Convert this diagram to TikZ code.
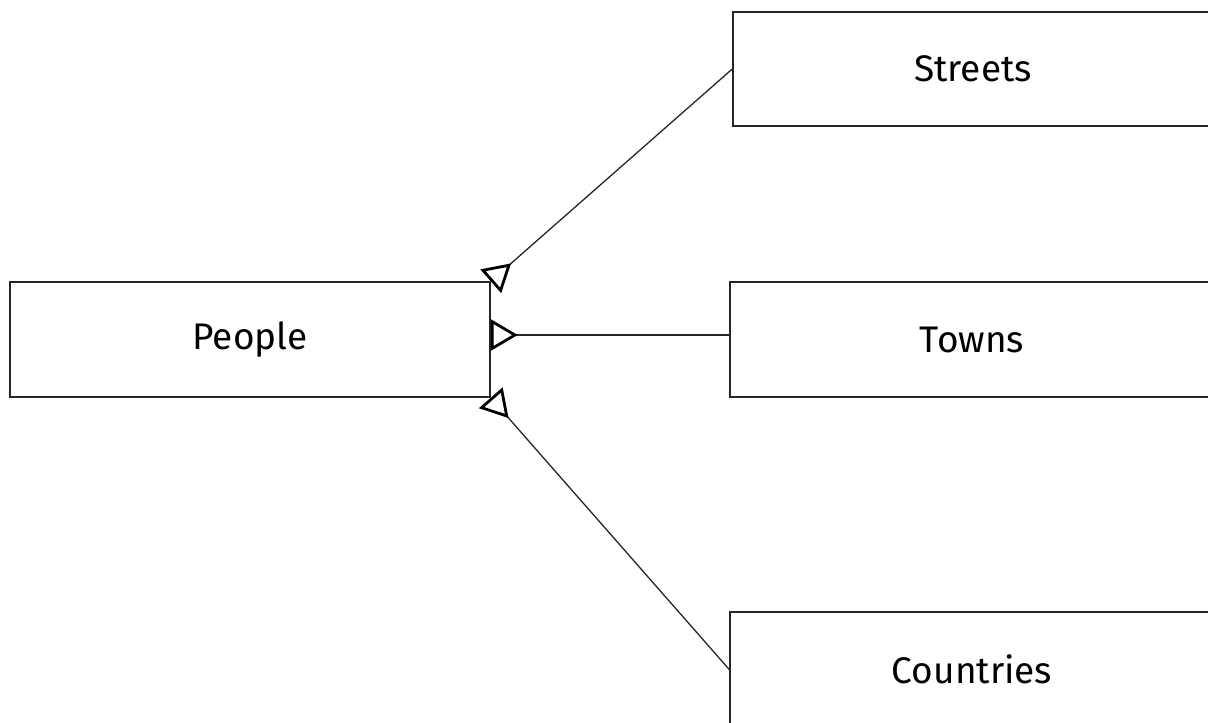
\documentclass[tikz,border=0pt]{standalone}
\usepackage{fontspec}
\setmainfont{Fira Sans}
\usetikzlibrary{arrows.meta}
\begin{document}
\begin{tikzpicture}[x=1pt,y=-1pt,
  entity/.style={draw=black!85, line width=1.5pt, fill=white, inner sep=0pt,
    font=\fontsize{37}{42}\selectfont, text=black},
  link/.style={draw=black!85, line width=1.3pt,
    {Triangle[open,reversed,length=27pt,width=31pt,line width=2.8pt,color=black]}-}
]
\useasboundingbox (0,0) rectangle (1208,723);
\clip (0,0) rectangle (1208,723);
\node[entity, minimum width=480pt, minimum height=115pt] (People) at (250,339.5) {People};
\node[entity, minimum width=480pt, minimum height=114pt] (Streets) at (973,69) {Streets};
\node[entity, minimum width=484pt, minimum height=115pt] (Towns) at (972,339.5) {Towns};
\node[entity, minimum width=484pt, minimum height=115pt] (Countries) at (972,669.5) {Countries};
\draw[link] (People.north east) -- (Streets.west);
\draw[link] ([yshift=4.5pt]People.east) -- ([yshift=4.5pt]Towns.west);
\draw[link] (People.south east) -- (Countries.west);
\end{tikzpicture}
\end{document}
